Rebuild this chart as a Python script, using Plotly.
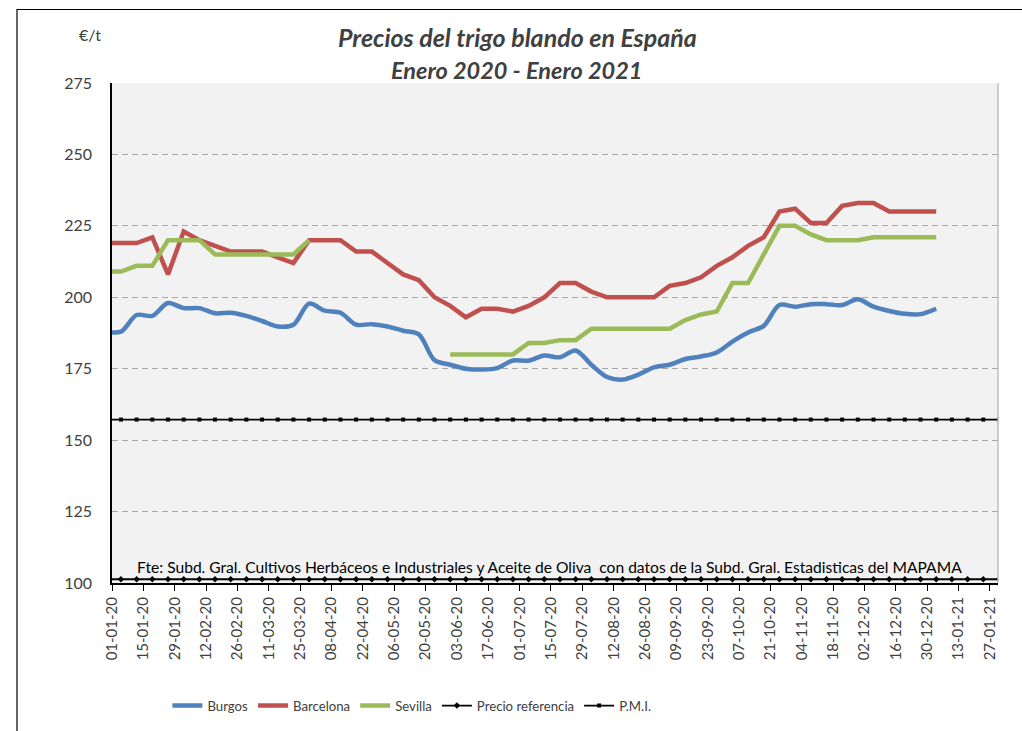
import pandas as pd
import plotly.graph_objects as go

# ---------------- data ----------------
dates = pd.date_range("2019-12-29", periods=54, freq="7D")
ref_dates = pd.date_range("2019-12-29", periods=58, freq="7D")

burgos = [188, 188, 193.8, 193.5, 198, 196.2, 196.2, 194.4, 194.6, 193.5,
          191.7, 189.8, 190.4, 197.8, 195.3, 194.6, 190.4, 190.6, 189.8, 188.3,
          187, 178, 176.4, 175, 174.7, 175.2, 177.9, 177.8, 179.6, 179,
          181.4, 176.4, 172.1, 171.2, 172.9, 175.5, 176.4, 178.4, 179.3, 180.7,
          184.5, 187.7, 190, 197.3, 196.7, 197.6, 197.6, 197.3, 199.3, 196.7,
          195.2, 194.2, 194.1, 196]

barcelona = [219, 219, 219, 221, 208, 223, 220, 218, 216, 216,
             216, 214, 212, 220, 220, 220, 216, 216, 212, 208,
             206, 200, 197, 193, 196, 196, 195, 197, 200, 205,
             205, 202, 200, 200, 200, 200, 204, 205, 207, 211,
             214, 218, 221, 230, 231, 226, 226, 232, 233, 233,
             230, 230, 230, 230]

sevilla = [209, 209, 211, 211, 220, 220, 220, 215, 215, 215,
           215, 215, 215, 220, None, None, None, None, None, None,
           None, None, 180, 180, 180, 180, 180, 184, 184, 185,
           185, 189, 189, 189, 189, 189, 189, 192, 194, 195,
           205, 205, 215, 225, 225, 222, 220, 220, 220, 221,
           221, 221, 221, 221]

precio_referencia = [101.31] * 58
pmi = [157.2] * 58

y_ticks = [100, 125, 150, 175, 200, 225, 250, 275]

title_1 = "Precios del trigo blando en España"
title_2 = "Enero 2020 - Enero 2021"
unit_label = "€/t"
source_text = ("Fte: Subd. Gral. Cultivos Herbáceos e Industriales y Aceite de Oliva"
               "&nbsp; con datos de la Subd. Gral. Estadisticas del MAPAMA")

# ---------------- figure ----------------
FONT = "Lato, Carlito, 'Liberation Sans', sans-serif"
TXT = "#404040"

fig = go.Figure()

fig.add_trace(go.Scatter(x=dates, y=burgos, name="Burgos", mode="lines",
                         line=dict(color="#4F81BD", width=4.5, shape="spline", smoothing=0.9)))
fig.add_trace(go.Scatter(x=dates, y=barcelona, name="Barcelona", mode="lines",
                         line=dict(color="#C0504D", width=4.5)))
fig.add_trace(go.Scatter(x=dates, y=sevilla, name="Sevilla", mode="lines",
                         line=dict(color="#9BBB59", width=4.5)))
fig.add_trace(go.Scatter(x=ref_dates, y=precio_referencia, name="Precio referencia",
                         mode="lines+markers",
                         line=dict(color="black", width=1.8),
                         marker=dict(symbol="diamond", size=5, color="black")))
fig.add_trace(go.Scatter(x=ref_dates, y=pmi, name="P.M.I.",
                         mode="lines+markers",
                         line=dict(color="black", width=1.8),
                         marker=dict(symbol="square", size=4, color="black")))

fig.update_layout(
    width=1022, height=731,
    margin=dict(l=112, r=24, t=83, b=148, autoexpand=False),
    paper_bgcolor="white",
    plot_bgcolor="#F2F2F2",
    font=dict(family=FONT, color=TXT),
    showlegend=True,
    legend=dict(orientation="h", xref="container", yref="container",
                x=0.1638, xanchor="left", y=1 - 706 / 731, yanchor="middle",
                font=dict(size=13.2, color=TXT, family=FONT), bgcolor="rgba(0,0,0,0)",
                itemwidth=30, tracegroupgap=0),
)

fig.update_xaxes(
    type="date",
    range=["2020-01-01", "2021-01-30 14:00"],
    tick0="2020-01-01", dtick=14 * 86400000,
    tickformat="%d-%m-%y", tickangle=-90,
    ticks="outside", ticklen=6, tickcolor="black", tickwidth=1,
    tickfont=dict(size=15, color=TXT, family=FONT),
    showline=True, linecolor="black", linewidth=2,
    showgrid=False, zeroline=False,
)

fig.update_yaxes(
    range=[100, 275], tickvals=y_ticks,
    ticks="outside", ticklen=15, tickcolor="rgba(0,0,0,0)",
    tickfont=dict(size=16, color=TXT, family=FONT),
    showline=True, linecolor="black", linewidth=1.5,
    showgrid=True, gridcolor="#A6A6A6", gridwidth=1.3, griddash="6px,4px",
    zeroline=False,
)

# plot area right border and outer chart border
fig.add_shape(type="line", xref="paper", yref="paper", x0=1, x1=1, y0=0, y1=1,
              line=dict(color="#BFBFBF", width=1.5), layer="above")
fig.add_shape(type="rect", xref="paper", yref="paper",
              x0=(17 - 112) / 886, x1=1.2, y0=-0.5, y1=(583.5 - 10) / 500,
              line=dict(color="black", width=1.2), layer="below")

fig.add_annotation(text=f"<b><i>{title_1}</i></b>", xref="paper", yref="paper",
                   x=(517 - 112) / 886, y=(583.5 - 37) / 500, xanchor="center", yanchor="middle",
                   showarrow=False, font=dict(size=25, color=TXT, family=FONT))
fig.add_annotation(text=f"<b><i>{title_2}</i></b>", xref="paper", yref="paper",
                   x=(516 - 112) / 886, y=(583.5 - 70) / 500, xanchor="center", yanchor="middle",
                   showarrow=False, font=dict(size=23.5, color=TXT, family=FONT))
fig.add_annotation(text=unit_label, xref="paper", yref="paper",
                   x=(90 - 112) / 886, y=(583.5 - 35) / 500, xanchor="center", yanchor="middle",
                   showarrow=False, font=dict(size=16, color=TXT, family=FONT))
fig.add_annotation(text=source_text, xref="paper", yref="paper",
                   x=(549 - 112) / 886, y=(583.5 - 567) / 500, xanchor="center", yanchor="middle",
                   showarrow=False, font=dict(size=15.6, color="black", family=FONT))

fig.write_html("out.html", config={"displayModeBar": False},
               post_script="document.body.style.margin='0';document.body.style.overflow='hidden';")
